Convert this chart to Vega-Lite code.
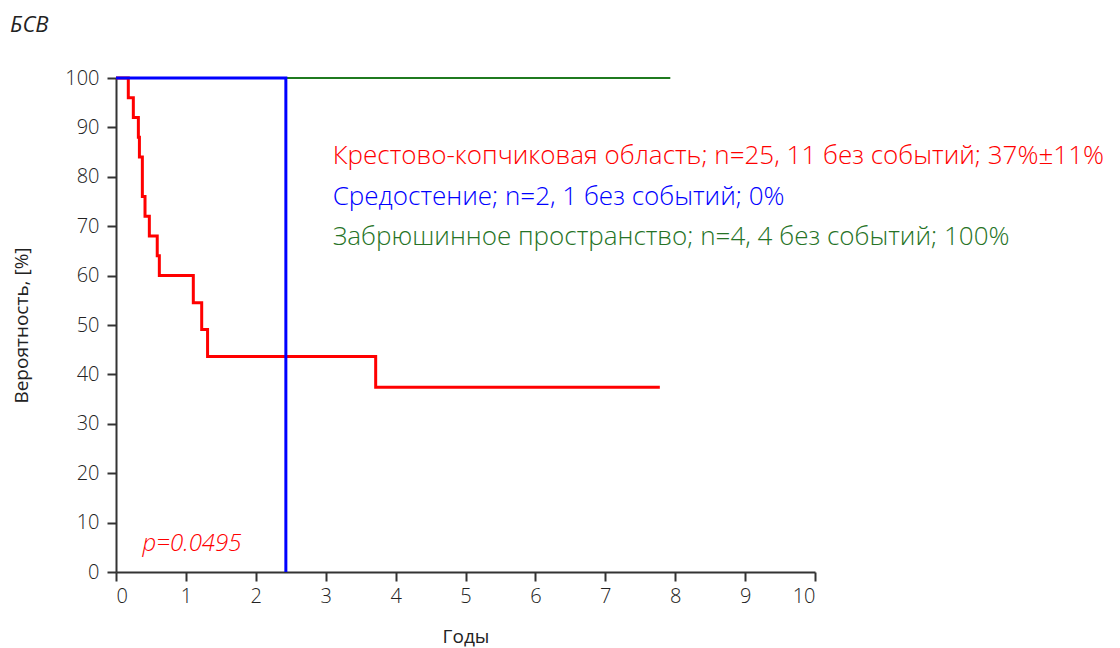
{
  "$schema": "https://vega.github.io/schema/vega-lite/v6.json",
  "width": 699,
  "height": 494,
  "autosize": "none",
  "padding": {"left": 116, "top": 78, "right": 305, "bottom": 76},
  "background": "white",
  "config": {
    "view": {"stroke": null},
    "font": "Open Sans",
    "axis": {"grid": false, "domainColor": "#333333", "tickColor": "#333333", "domainWidth": 2, "tickWidth": 2, "tickSize": 9, "labelColor": "#222222", "titleColor": "#222222", "labelFont": "Open Sans", "titleFont": "Open Sans", "labelFontSize": 20, "titleFontSize": 19, "titleFontWeight": "normal", "labelFontWeight": 300, "format": "d"}
  },
  "title": {"text": "БСВ", "anchor": "start", "frame": "group", "dx": -106, "offset": 31, "fontSize": 22, "fontStyle": "italic", "fontWeight": "normal", "color": "#222222", "font": "Open Sans"},
  "datasets": {
    "curves": [
      {"series": "red", "t": 0, "s": 100},
      {"series": "red", "t": 0.176, "s": 96},
      {"series": "red", "t": 0.248, "s": 92},
      {"series": "red", "t": 0.32, "s": 88},
      {"series": "red", "t": 0.335, "s": 84},
      {"series": "red", "t": 0.377, "s": 76},
      {"series": "red", "t": 0.415, "s": 72},
      {"series": "red", "t": 0.477, "s": 68},
      {"series": "red", "t": 0.59, "s": 64},
      {"series": "red", "t": 0.62, "s": 60},
      {"series": "red", "t": 1.106, "s": 54.5},
      {"series": "red", "t": 1.226, "s": 49.1},
      {"series": "red", "t": 1.31, "s": 43.6},
      {"series": "red", "t": 3.715, "s": 37.4},
      {"series": "red", "t": 7.78, "s": 37.4},
      {"series": "green", "t": 0, "s": 100},
      {"series": "green", "t": 7.93, "s": 100},
      {"series": "blue", "t": 0, "s": 100},
      {"series": "blue", "t": 2.43, "s": 100},
      {"series": "blue", "t": 2.43, "s": 0}
    ],
    "labels": [
      {"series": "red", "t": 3.1, "s": 84.2, "label": "Крестово-копчиковая область; n=25, 11 без событий; 37%±11%"},
      {"series": "blue", "t": 3.1, "s": 75.9, "label": "Средостение; n=2, 1 без событий; 0%"},
      {"series": "green", "t": 3.1, "s": 67.8, "label": "Забрюшинное пространство; n=4, 4 без событий; 100%"}
    ],
    "pval": [
      {"t": 0.38, "s": 5.7, "label": "p=0.0495"}
    ]
  },
  "layer": [
    {
      "data": {"name": "curves"},
      "transform": [{"filter": "datum.series === 'green'"}],
      "mark": {"type": "line", "interpolate": "step-after", "color": "#1f7a1f", "strokeWidth": 2},
      "encoding": {
        "x": {"field": "t", "type": "quantitative", "scale": {"domain": [0, 10], "nice": false}, "axis": {"values": [0,1,2,3,4,5,6,7,8,9,10], "title": "Годы", "titlePadding": 21, "labelPadding": 5}},
        "y": {"field": "s", "type": "quantitative", "scale": {"domain": [0, 100], "nice": false}, "axis": {"values": [0,10,20,30,40,50,60,70,80,90,100], "title": "Вероятность, [%]", "titlePadding": 33, "labelPadding": 8}}
      }
    },
    {
      "data": {"name": "curves"},
      "transform": [{"filter": "datum.series === 'red'"}],
      "mark": {"type": "line", "interpolate": "step-after", "color": "#ff0000", "strokeWidth": 3},
      "encoding": {
        "x": {"field": "t", "type": "quantitative"},
        "y": {"field": "s", "type": "quantitative"}
      }
    },
    {
      "data": {"name": "curves"},
      "transform": [{"filter": "datum.series === 'blue'"}],
      "mark": {"type": "line", "interpolate": "step-after", "color": "#0000ff", "strokeWidth": 3},
      "encoding": {
        "x": {"field": "t", "type": "quantitative"},
        "y": {"field": "s", "type": "quantitative"}
      }
    },
    {
      "data": {"name": "labels"},
      "mark": {"type": "text", "align": "left", "baseline": "middle", "fontSize": 26, "font": "Open Sans", "fontWeight": 300},
      "encoding": {
        "x": {"field": "t", "type": "quantitative"},
        "y": {"field": "s", "type": "quantitative"},
        "text": {"field": "label"},
        "color": {"field": "series", "type": "nominal", "scale": {"domain": ["red", "blue", "green"], "range": ["#ff0000", "#0000ff", "#267326"]}, "legend": null}
      }
    },
    {
      "data": {"name": "pval"},
      "mark": {"type": "text", "align": "left", "baseline": "middle", "fontSize": 24, "font": "Open Sans", "fontWeight": 300, "fontStyle": "italic", "color": "#ff0000"},
      "encoding": {
        "x": {"field": "t", "type": "quantitative"},
        "y": {"field": "s", "type": "quantitative"},
        "text": {"field": "label"}
      }
    }
  ]
}
